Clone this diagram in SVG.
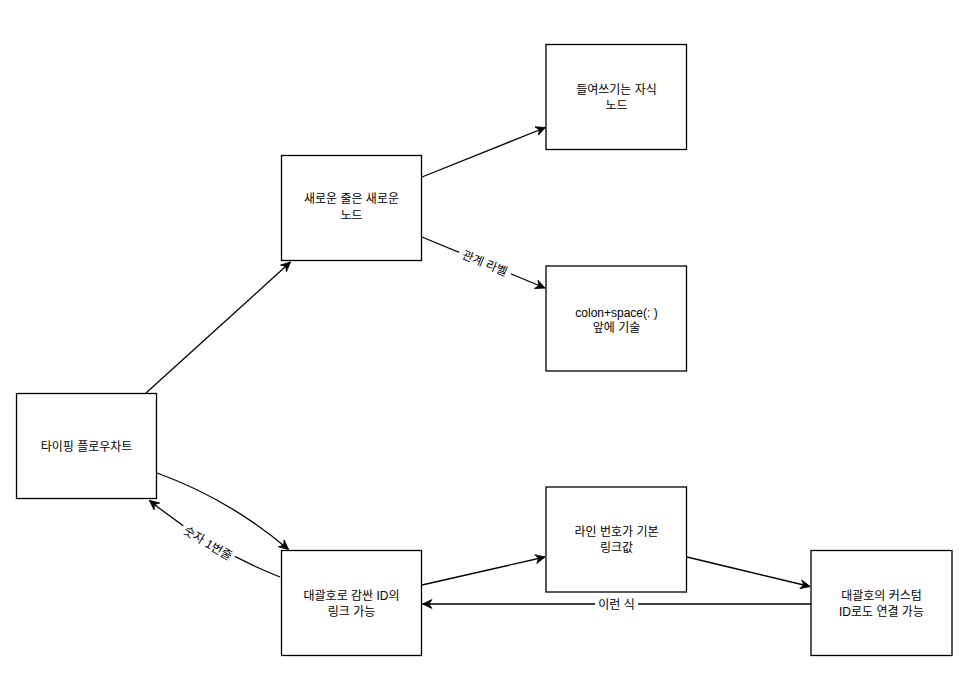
<svg xmlns="http://www.w3.org/2000/svg" width="968" height="681" viewBox="0 0 968 681">
<style>
.box{fill:#fff;stroke:#000;stroke-width:1.3}
.t{font-family:"Liberation Sans","Noto Sans CJK KR",sans-serif;font-size:12px;fill:#000;text-anchor:middle}
.e{fill:none;stroke:#000;stroke-width:1.3;marker-end:url(#arr)}
.lb{fill:#fff}
</style>
<defs>
<marker id="arr" viewBox="-10 -5 11 10" refX="0" refY="0" markerWidth="11" markerHeight="10" markerUnits="userSpaceOnUse" orient="auto">
<path d="M0,0 L-9.5,-4.5 L-6.5,0 L-9.5,4.5 Z" fill="#000" stroke="#000" stroke-width="0.8" stroke-linejoin="miter"/>
</marker>
</defs>
<rect width="968" height="681" fill="#fff"/>
<g id="connectors">
<path class="e" d="M146,393 L290.5,262"/>
<path class="e" d="M422,177 L545.5,127.5"/>
<path class="e" d="M422,237 L545,288"/>
<path class="e" d="M157,473 Q229,499 288.5,549.5"/>
<path class="e" d="M280,577 Q209,549 149.5,500.5"/>
<path class="e" d="M422,585 L545,557"/>
<path class="e" d="M687,557 L810,586.5"/>
<path class="e" d="M811,604 L422.5,604"/>
<g transform="translate(485,263) rotate(22.5)">
<rect class="lb" x="-28" y="-7" width="56" height="14"/>
<text class="t" x="0" y="4.5">관계 라벨</text>
</g>
<g transform="translate(208,543) rotate(31)">
<rect class="lb" x="-30" y="-7" width="60" height="14"/>
<text class="t" x="0" y="4.5">숫자 1번줄</text>
</g>
<rect class="lb" x="595" y="597" width="43" height="14"/>
<text class="t" x="616.5" y="608.5">이런 식</text>
</g>
<g id="n1">
<rect class="box" x="16.5" y="393.5" width="140" height="105"/>
<text class="t" x="86.5" y="450.5">타이핑 플로우차트</text>
</g>
<g id="n2">
<rect class="box" x="281.5" y="155.5" width="140" height="105"/>
<text class="t" x="351.5" y="203">새로운 줄은 새로운</text>
<text class="t" x="351.5" y="219.5">노드</text>
</g>
<g id="n3">
<rect class="box" x="546" y="44.5" width="140.5" height="105"/>
<text class="t" x="616.5" y="94">들여쓰기는 자식</text>
<text class="t" x="616.5" y="109.5">노드</text>
</g>
<g id="n4">
<rect class="box" x="546" y="266" width="140.5" height="105"/>
<text class="t" x="616.5" y="316.5">colon+space(: )</text>
<text class="t" x="616.5" y="332">앞에 기술</text>
</g>
<g id="n5">
<rect class="box" x="281.5" y="550.5" width="140" height="105"/>
<text class="t" x="351.5" y="599.5">대괄호로 감싼 ID의</text>
<text class="t" x="351.5" y="616">링크 가능</text>
</g>
<g id="n6">
<rect class="box" x="546" y="487" width="140.5" height="105"/>
<text class="t" x="616.5" y="535.5">라인 번호가 기본</text>
<text class="t" x="616.5" y="552">링크값</text>
</g>
<g id="n7">
<rect class="box" x="811" y="550.5" width="141" height="105"/>
<text class="t" x="881.5" y="599.5">대괄호의 커스텀</text>
<text class="t" x="881.5" y="616">ID로도 연결 가능</text>
</g>
</svg>
